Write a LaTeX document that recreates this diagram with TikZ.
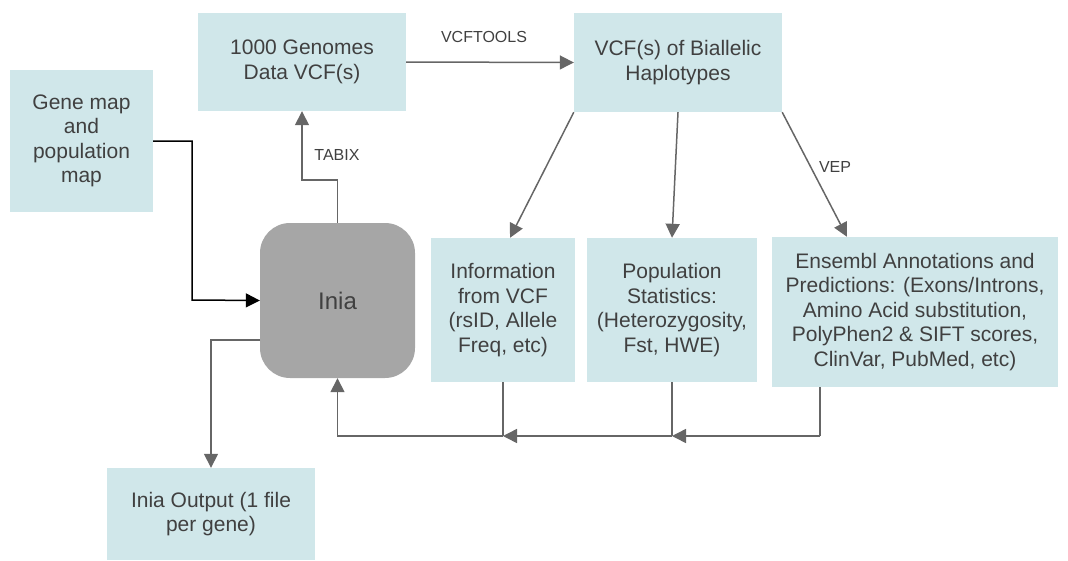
\documentclass[tikz,border=0pt]{standalone}
\usepackage{fontspec}
\setmainfont{Liberation Sans}
\usetikzlibrary{arrows.meta,calc}
\definecolor{boxfill}{HTML}{D0E7EA}
\definecolor{iniafill}{HTML}{A6A6A6}
\definecolor{txt}{HTML}{404040}
\definecolor{wire}{HTML}{666666}
\tikzset{
  tip/.tip={Triangle[length=14pt,width=14pt]},
  databox/.style={fill=boxfill, draw=none, text=txt, align=center,
    font=\fontsize{21}{24.5}\selectfont, inner sep=0pt},
  flow/.style={draw=wire, line width=1.5pt, -tip},
  plain/.style={draw=wire, line width=1.5pt},
  lbl/.style={text=txt, font=\fontsize{16}{18}\selectfont, inner sep=0pt}
}
\begin{document}
\begin{tikzpicture}[x=1pt,y=-1pt]
\useasboundingbox (0,0) rectangle (1068,560);

% boxes
\node[databox, minimum width=143pt, minimum height=142pt] (gene) at (81.5,141)
  {Gene map\\and\\population\\map};
\node[databox, minimum width=208pt, minimum height=98pt] (gk) at (302,62)
  {1000 Genomes\\Data VCF(s)};
\node[databox, minimum width=208pt, minimum height=99pt] (bial) at (678,62.5)
  {VCF(s) of Biallelic\\Haplotypes};
\node[fill=iniafill, draw=none, rounded corners=30pt, minimum width=155pt,
  minimum height=155pt, text=txt, font=\fontsize{24}{28}\selectfont] (inia)
  at (337.5,300.5) {Inia};
\node[databox, minimum width=144pt, minimum height=144pt] (info) at (503,310)
  {Information\\from VCF\\(rsID, Allele\\Freq, etc)};
\node[databox, minimum width=170pt, minimum height=144pt] (pop) at (672,310)
  {Population\\Statistics:\\(Heterozygosity,\\Fst, HWE)};
\node[databox, minimum width=286pt, minimum height=150pt] (ens) at (915,312)
  {Ensembl Annotations and\\Predictions: (Exons/Introns,\\Amino Acid substitution,\\PolyPhen2 \& SIFT scores,\\ClinVar, PubMed, etc)};
\node[databox, minimum width=208pt, minimum height=92pt] (out) at (211,514)
  {Inia Output (1 file\\per gene)};

% bend points
\coordinate (gbend) at (192,300);
\coordinate (tbend) at (302,180);
\coordinate (ejoin) at (820,436);
\coordinate (pjoin) at (672,436);
\coordinate (ijoin) at (503,436);
\coordinate (rbend) at (337.5,436);
\coordinate (oleft) at (260,340);
\coordinate (obend) at (211,340);

% gene / population maps into Inia
\draw[line width=1.5pt, black, -tip]
  (gene.east) -| (gbend) -- (inia.west);

% Inia queries the genomes data
\draw[flow] (inia.north) |- (tbend) -- (gk.south);
\node[lbl] (tabix) at (337,155) {TABIX};

% filtering
\draw[flow] (gk.east) -- (bial.west);
\node[lbl] (vcft) at (484,37) {VCFTOOLS};

% fan-out of the biallelic VCFs
\draw[flow] (bial.south west) -- ($(info.north)+(7,0)$);
\draw[flow] (bial.south) -- (pop.north);
\draw[flow] (bial.south east) -- ($(ens.north)+(-68,0)$);
\node[lbl] (vep) at (835,167) {VEP};

% results return to Inia
\draw[plain] (ens.south -| ejoin) -- (ejoin);
\draw[flow] (ejoin) -- (pjoin);
\draw[plain] (pop.south) -- (pjoin);
\draw[flow] (pjoin) -- (ijoin);
\draw[plain] (info.south) -- (ijoin);
\draw[flow] (ijoin) -- (rbend) -- (inia.south);

% output
\draw[flow] (oleft) -- (obend) -- (out.north);
\end{tikzpicture}
\end{document}
